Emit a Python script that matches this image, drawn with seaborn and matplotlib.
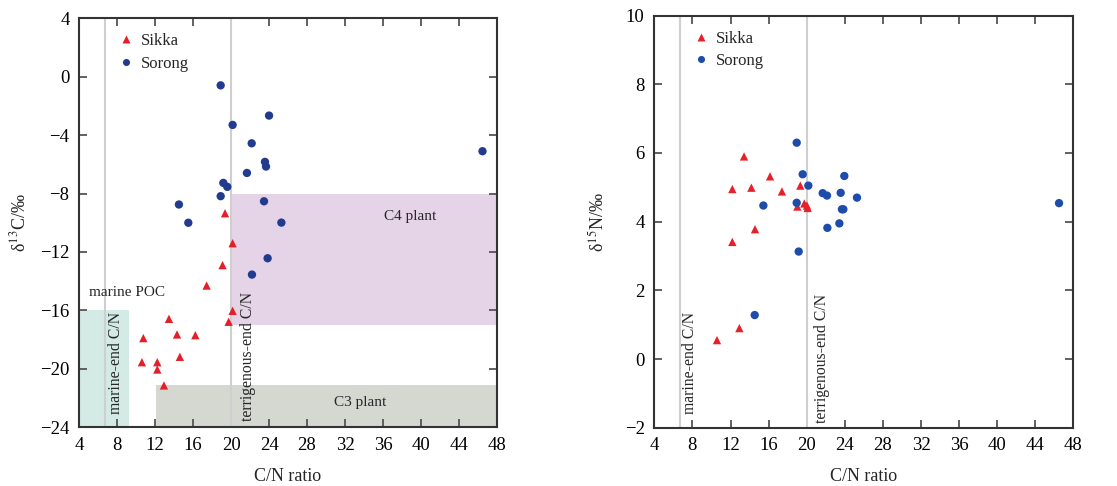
import numpy as np
import pandas as pd
import matplotlib
matplotlib.use("Agg")
import matplotlib.pyplot as plt
import seaborn as sns

# left panel: C/N vs d13C
sikka_cn_c = [19.36, 20.16, 19.1, 17.42, 20.16, 19.74, 13.45, 14.3, 16.23, 10.75, 10.6, 12.22, 12.22, 14.6, 12.92]
sikka_d13c = [-9.35, -11.4, -12.9, -14.3, -16.03, -16.78, -16.58, -17.65, -17.7, -17.9, -19.55, -19.55, -20.05, -19.18, -21.14]
sorong_cn_c = [18.9, 20.16, 24.0, 22.17, 46.5, 23.57, 23.68, 21.67, 19.18, 19.6, 18.9, 14.5, 23.47, 15.49, 25.3, 23.85, 22.2]
sorong_d13c = [-0.59, -3.3, -2.66, -4.56, -5.1, -5.83, -6.15, -6.59, -7.27, -7.54, -8.18, -8.75, -8.53, -10.0, -9.99, -12.43, -13.55]

# right panel: C/N vs d15N
sikka_cn_n = [13.42, 16.15, 12.19, 14.19, 17.4, 19.33, 19.02, 19.75, 20.03, 20.1, 14.57, 12.19, 12.93, 10.58]
sikka_d15n = [5.9, 5.32, 4.95, 4.99, 4.88, 5.05, 4.44, 4.53, 4.47, 4.4, 3.78, 3.41, 0.9, 0.55]
sorong_cn_n = [18.95, 19.58, 20.17, 23.95, 18.95, 15.45, 21.68, 22.13, 23.57, 25.28, 23.7, 23.85, 23.43, 22.17, 19.16, 14.54, 46.5]
sorong_d15n = [6.3, 5.38, 5.05, 5.33, 4.55, 4.47, 4.83, 4.76, 4.84, 4.7, 4.36, 4.36, 3.95, 3.82, 3.13, 1.28, 4.54]

sites = ["Sikka", "Sorong"]
site_markers = {"Sikka": "^", "Sorong": "o"}
colors_c = {"Sikka": "#e3202a", "Sorong": "#223b8e"}
colors_n = {"Sikka": "#e8202a", "Sorong": "#1e4cab"}

marine_end = 6.7
terr_end = 20

sns.set_style("ticks")
plt.rcParams['font.family'] = ['Liberation Serif', 'DejaVu Serif']
plt.rcParams['mathtext.fontset'] = 'stix'

df_c = pd.DataFrame({
    "cn": sikka_cn_c + sorong_cn_c,
    "val": sikka_d13c + sorong_d13c,
    "site": ["Sikka"] * len(sikka_cn_c) + ["Sorong"] * len(sorong_cn_c),
})
df_n = pd.DataFrame({
    "cn": sikka_cn_n + sorong_cn_n,
    "val": sikka_d15n + sorong_d15n,
    "site": ["Sikka"] * len(sikka_cn_n) + ["Sorong"] * len(sorong_cn_n),
})

fig = plt.figure(figsize=(11.17, 4.86), dpi=100)
ax1 = fig.add_axes([0.071, 0.121, 0.3737, 0.8413])
ax2 = fig.add_axes([0.5858, 0.120, 0.3751, 0.8478])

# shaded source fields
ax1.axvspan(4, 9.2, ymin=0, ymax=(-16.0 + 24) / 28, color="#d3eae5", lw=0, zorder=0)
ax1.axvspan(12.1, 48, ymin=0, ymax=(-21.1 + 24) / 28, color="#d5d7d1", lw=0, zorder=0)
ax1.axvspan(20, 48, ymin=(-17.0 + 24) / 28, ymax=(-8 + 24) / 28, color="#e5d3e7", lw=0, zorder=0)

for ax, df, pal in [(ax1, df_c, colors_c), (ax2, df_n, colors_n)]:
    ax.axvline(marine_end, color="#cfcfcf", lw=1.5, zorder=1)
    ax.axvline(terr_end, color="#cfcfcf", lw=1.5, zorder=1)
    sns.scatterplot(data=df, x="cn", y="val", hue="site", style="site",
                    palette=pal, markers=site_markers, hue_order=sites,
                    s=36, edgecolor="none", ax=ax, zorder=3)
    ax.set_xlim(4, 48)
    ax.set_xticks(np.arange(4, 49, 4))
    ax.set_xlabel("C/N ratio", fontsize=13, labelpad=10)
    ax.tick_params(direction="in", top=True, right=True, length=6, width=1.3,
                   colors="#555555", labelcolor="black", labelsize=13.5, pad=7)
    for sp in ax.spines.values():
        sp.set_color("#333333")
        sp.set_linewidth(1.5)
    ax.legend(loc="upper left", frameon=False, fontsize=12,
              handlelength=1.0, handletextpad=0.4, borderaxespad=0.0,
              labelspacing=0.4, markerscale=0.85, bbox_to_anchor=(0.075, 0.98))

ax1.set_ylim(-24, 4)
ax1.set_yticks(np.arange(-24, 5, 4))
ax1.set_ylabel("δ$^{13}$C/‰", fontsize=13, labelpad=8)
ax2.set_ylim(-2, 10)
ax2.set_yticks(np.arange(-2, 11, 2))
ax2.set_ylabel("δ$^{15}$N/‰", fontsize=13, labelpad=12)

ax1.text(9.0, -14.8, "marine POC", fontsize=11, ha="center", va="center")
ax1.text(38.9, -9.6, "C4 plant", fontsize=11, ha="center", va="center")
ax1.text(33.6, -22.3, "C3 plant", fontsize=11, ha="center", va="center")
ax1.text(7.9, -23.1, "marine-end C/N", rotation=90, fontsize=11.3, ha="center", va="bottom")
ax1.text(21.8, -23.6, "terrigenous-end C/N", rotation=90, fontsize=11.3, ha="center", va="bottom")
ax2.text(7.7, -1.6, "marine-end C/N", rotation=90, fontsize=11.3, ha="center", va="bottom")
ax2.text(21.6, -1.85, "terrigenous-end C/N", rotation=90, fontsize=11.3, ha="center", va="bottom")

plt.savefig("out.png", dpi=100)
